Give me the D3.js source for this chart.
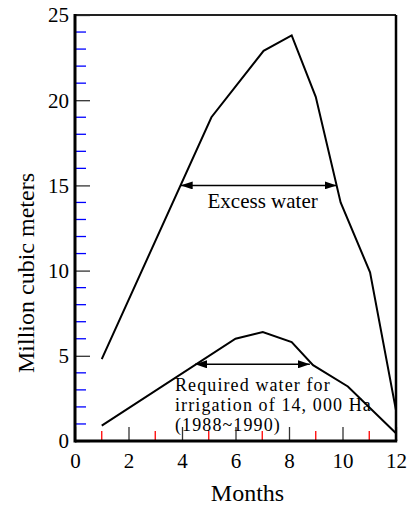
<!DOCTYPE html>
<html><head><meta charset="utf-8">
<script src="https://cdn.jsdelivr.net/npm/d3@7"></script>
<style>body{margin:0;background:#fff}svg{display:block}</style>
</head><body>
<script>
// Data
const excessMonths = [1, 5.1, 7.05, 8.1, 9.0, 9.93, 11.03, 12];
const excessValues = [4.8, 19.0, 22.9, 23.8, 20.2, 14.0, 9.9, 1.8];
const requiredMonths = [1, 6, 7.02, 8.1, 8.9, 10.2, 12];
const requiredValues = [0.9, 6.0, 6.4, 5.8, 4.45, 3.2, 0.45];
const xTicks = [0, 2, 4, 6, 8, 10, 12];
const xMinorTicks = [1, 3, 5, 7, 9, 11];
const yTicks = [0, 5, 10, 15, 20, 25];
const yMinorTicks = [1,2,3,4,6,7,8,9,11,12,13,14,16,17,18,19,21,22,23,24];
const excessArrow = {x1: 3.95, x2: 9.78, y: 15.0, label: "Excess water"};
const requiredArrow = {x1: 4.49, x2: 8.78, y: 4.5};
const requiredLabel = ["Required water for", "irrigation of 14, 000 Ha", "(1988~1990)"];

const W = 411, H = 508;
const m = {left: 75, right: 15, top: 15, bottom: 67};
const svg = d3.select("body").append("svg").attr("width", W).attr("height", H);
const font = "'Liberation Serif', 'Times New Roman', Times, serif";

const x = d3.scaleLinear().domain([0, 12]).range([m.left, W - m.right]);
const y = d3.scaleLinear().domain([0, 25]).range([H - m.bottom, m.top]);

const defs = svg.append("defs");
defs.append("marker").attr("id", "ah").attr("viewBox", "0 0 12 8")
  .attr("refX", 12).attr("refY", 4).attr("markerWidth", 12).attr("markerHeight", 8)
  .attr("markerUnits", "userSpaceOnUse").attr("orient", "auto-start-reverse")
  .append("path").attr("d", "M0,0 L12,4 L0,8 Z").attr("fill", "#000");

// minor ticks
svg.append("g").selectAll("line").data(yMinorTicks).join("line")
  .attr("x1", x(0)).attr("x2", x(0) + 11).attr("y1", d => y(d)).attr("y2", d => y(d))
  .attr("stroke", "#0000ff").attr("stroke-width", 1.3);
svg.append("g").selectAll("line").data(xMinorTicks).join("line")
  .attr("x1", d => x(d)).attr("x2", d => x(d)).attr("y1", y(0)).attr("y2", y(0) - 10)
  .attr("stroke", "#ff0000").attr("stroke-width", 1.3);

// major ticks via axes
const yAxis = d3.axisLeft(y).tickValues(yTicks).tickSize(-15).tickPadding(6);
const gy = svg.append("g").attr("transform", `translate(${m.left},0)`).call(yAxis);
gy.select(".domain").remove();
gy.selectAll(".tick line").attr("stroke", "#333").attr("stroke-width", 1.3);
gy.selectAll(".tick text").attr("font-family", font).attr("font-size", 21).attr("fill", "#000")
  .attr("dy", "0.33em");

const xAxis = d3.axisBottom(x).tickValues(xTicks).tickSize(-14).tickPadding(12);
const gx = svg.append("g").attr("transform", `translate(0,${H - m.bottom})`).call(xAxis);
gx.select(".domain").remove();
gx.selectAll(".tick line").attr("stroke", "#333").attr("stroke-width", 1.3);
gx.selectAll(".tick text").attr("font-family", font).attr("font-size", 21).attr("fill", "#000")
  .attr("y", 27).attr("dy", 0);

// frame
svg.append("line").attr("x1", x(0)).attr("x2", x(12)).attr("y1", y(25)).attr("y2", y(25)).attr("stroke", "#222").attr("stroke-width", 2);
svg.append("line").attr("x1", x(12)).attr("x2", x(12)).attr("y1", y(25)).attr("y2", y(0)).attr("stroke", "#000").attr("stroke-width", 2.5);
svg.append("line").attr("x1", x(0)).attr("x2", x(0)).attr("y1", y(25) - 1).attr("y2", y(0) + 1.5).attr("stroke", "#000").attr("stroke-width", 3);
svg.append("line").attr("x1", x(0)).attr("x2", x(12) + 1.2).attr("y1", y(0)).attr("y2", y(0)).attr("stroke", "#000").attr("stroke-width", 3);

// lines
const line = d3.line().x(d => x(d[0])).y(d => y(d[1]));
svg.append("path").datum(d3.zip(excessMonths, excessValues)).attr("d", line)
  .attr("fill", "none").attr("stroke", "#000").attr("stroke-width", 2);
svg.append("path").datum(d3.zip(requiredMonths, requiredValues)).attr("d", line)
  .attr("fill", "none").attr("stroke", "#000").attr("stroke-width", 2);

// arrows
function dblArrow(a) {
  svg.append("line").attr("x1", x(a.x1)).attr("x2", x(a.x2)).attr("y1", y(a.y)).attr("y2", y(a.y))
    .attr("stroke", "#000").attr("stroke-width", 1.5)
    .attr("marker-start", "url(#ah)").attr("marker-end", "url(#ah)");
}
dblArrow(excessArrow);
dblArrow(requiredArrow);

svg.append("text").attr("x", (x(excessArrow.x1) + x(excessArrow.x2)) / 2 + 4).attr("y", y(excessArrow.y) + 23)
  .attr("text-anchor", "middle").attr("font-family", font).attr("font-size", 21).text(excessArrow.label);

svg.append("g").selectAll("text").data(requiredLabel).join("text")
  .attr("x", 175).attr("y", (d, i) => 391 + i * 20)
  .attr("font-family", font).attr("font-size", 18).attr("letter-spacing", 1.1).text(d => d);

// axis titles
svg.append("text").attr("x", (x(0) + x(12)) / 2 + 12).attr("y", 501).attr("text-anchor", "middle")
  .attr("font-family", font).attr("font-size", 24).text("Months");
svg.append("text").attr("transform", `translate(34,273) rotate(-90)`).attr("text-anchor", "middle")
  .attr("font-family", font).attr("font-size", 24).text("Million cubic meters");
</script>
</body></html>
